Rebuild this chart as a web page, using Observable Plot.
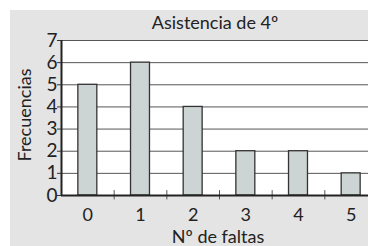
<!DOCTYPE html>
<html>
<head>
<meta charset="utf-8">
<script src="https://cdn.jsdelivr.net/npm/d3@7"></script>
<script src="https://cdn.jsdelivr.net/npm/@observablehq/plot@0.6"></script>
<style>
  html, body { margin: 0; padding: 0; background: #ffffff; width: 368px; height: 246px; overflow: hidden; }
  #bg { position: absolute; left: 10px; top: 10px; width: 358px; height: 236px; background: #e4e4e4; }
  #chart { position: absolute; left: 0; top: 0; }
</style>
</head>
<body>
<div id="bg"></div>
<div id="chart"></div>
<script>
const categories = [0, 1, 2, 3, 4, 5];
const frequencies = [5, 6, 4, 2, 2, 1];
const yTicks = [0, 1, 2, 3, 4, 5, 6, 7];
const title = "Asistencia de 4º";
const xLabel = "Nº de faltas";
const yLabel = "Frecuencias";

const data = categories.map((c, i) => ({ x: c, n: frequencies[i] }));
const boundaries = categories.slice(0, -1).map(c => c + 0.5);
const halfBar = 0.18;
const font = "Lato, 'Open Sans', sans-serif";

const chart = Plot.plot({
  width: 368,
  height: 246,
  marginLeft: 61,
  marginRight: 0,
  marginTop: 40,
  marginBottom: 51,
  style: { background: "transparent", fontFamily: font, overflow: "visible" },
  x: { type: "linear", domain: [-0.5, 5.5], range: [61, 377] },
  y: { domain: [0, 7] },
  marks: [
    Plot.frame({ fill: "white", stroke: null }),
    Plot.ruleY(yTicks.slice(1), { stroke: "#555", strokeWidth: 1 }),
    Plot.rectY(data, {
      x1: d => d.x - halfBar,
      x2: d => d.x + halfBar,
      y: "n",
      fill: "#cdd4d4",
      stroke: "#333",
      strokeWidth: 1.3
    }),
    Plot.ruleX(boundaries, { y1: -0.2, y2: 0.22, stroke: "#555", strokeWidth: 1 }),
    Plot.ruleY([0], { stroke: "#222", strokeWidth: 2 }),
    Plot.ruleX([-0.5], { stroke: "#222", strokeWidth: 2 }),
    Plot.axisY({
      ticks: yTicks, tickFormat: "d", tickSize: 4, tickPadding: 0, label: null,
      fontSize: 19, stroke: "#333", color: "#222"
    }),
    Plot.axisX({
      ticks: categories, tickFormat: "d", tickSize: 0, tickPadding: 13, label: null,
      fontSize: 18, color: "#222"
    }),
    Plot.text([title], { frameAnchor: "top", dy: -17, lineAnchor: "middle", fontSize: 18, fill: "#222" }),
    Plot.text([xLabel], { frameAnchor: "bottom", dx: 3, dy: 42, lineAnchor: "middle", fontSize: 18, fill: "#222" }),
    Plot.text([yLabel], { frameAnchor: "left", dx: -36, dy: -3, rotate: -90, textAnchor: "middle", lineAnchor: "middle", fontSize: 18, fill: "#222" })
  ]
});
document.getElementById("chart").appendChild(chart);
</script>
</body>
</html>
